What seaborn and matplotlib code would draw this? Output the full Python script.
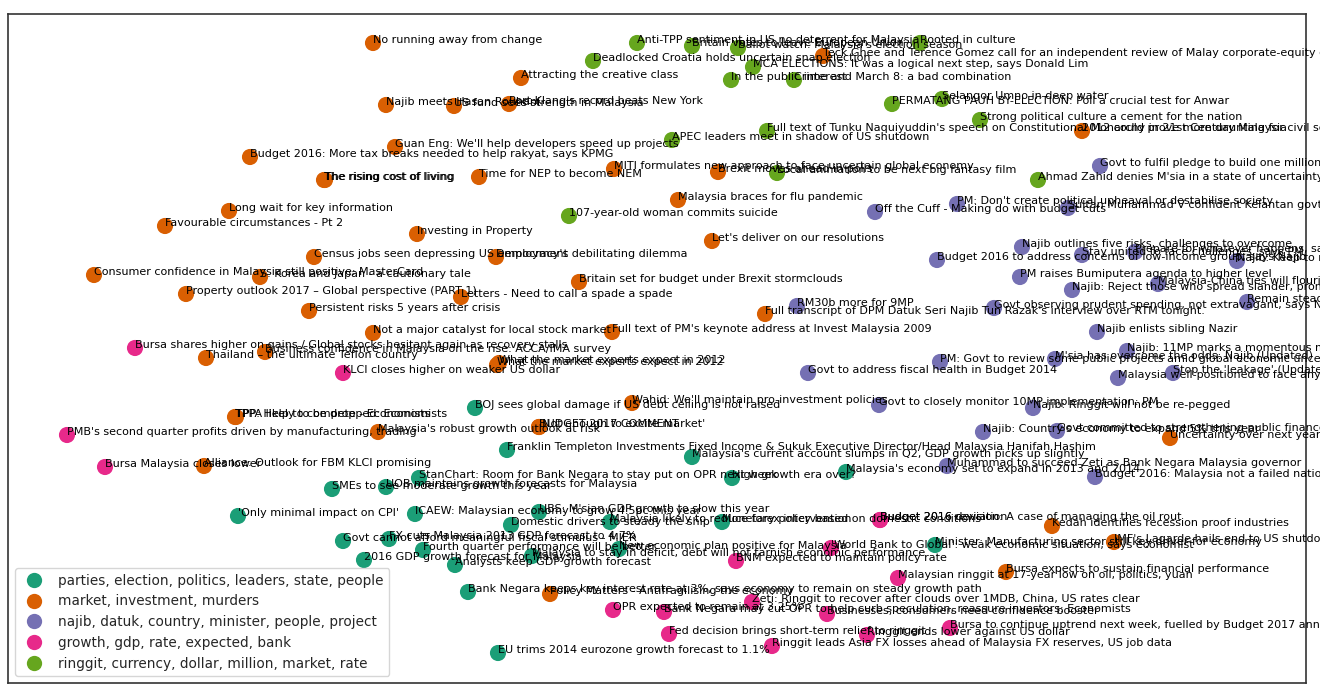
import matplotlib
matplotlib.use("Agg")
import matplotlib.pyplot as plt
from matplotlib.lines import Line2D
import seaborn as sns
import pandas as pd

# topic clusters (legend order)
topics = [
    "parties, election, politics, leaders, state, people",
    "market, investment, murders",
    "najib, datuk, country, minister, people, project",
    "growth, gdp, rate, expected, bank",
    "ringgit, currency, dollar, million, market, rate",
]
palette = sns.color_palette("Dark2", 5)

# embedding coordinates (dim1, dim2), cluster id, headline
dim1 = [
    373, 637, 692, 738, 920, 823, 593, 753, 731, 794,
    521, 386, 454, 509, 892, 942, 980, 1082, 767, 672,
    395, 250, 324, 325, 479, 614, 718, 777, 678, 569,
    1100, 1038, 875, 957, 1068,
    229, 165, 417, 314, 496, 712, 94, 260, 186, 309,
    579, 461, 373, 612, 765, 797, 135, 265, 206, 343,
    497, 499, 808, 235, 236, 378, 67, 475, 632, 879,
    539, 539, 507, 692,
    937, 1022, 1082, 1135, 1237, 1020, 1072, 1158, 994, 1247,
    1097, 940, 1055, 1127, 1118, 1173, 1033, 983, 1057, 1170,
    947, 1095,
    105, 204, 332, 386, 419, 238, 415, 343, 389, 423,
    364, 455, 532, 539, 511, 610, 722, 619, 732, 846,
    468, 550, 498,
    880, 880, 831, 736, 935, 1052, 1114, 898, 1006, 613,
    664, 752, 827, 669, 867, 950, 772,
]
dim2 = [
    43, 43, 46, 48, 43, 56, 61, 67, 80, 80,
    78, 105, 106, 104, 104, 99, 120, 131, 131, 140,
    147, 157, 180, 180, 177, 169, 172, 173, 200, 216,
    166, 180, 212, 204, 208,
    211, 226, 234, 257, 257, 241, 275, 277, 294, 311,
    282, 297, 333, 332, 314, 306, 348, 352, 358, 373,
    365, 363, 373, 417, 417, 432, 435, 408, 403, 405,
    427, 427, 450, 457,
    260, 247, 255, 252, 261, 277, 290, 284, 308, 302,
    332, 362, 359, 351, 378, 373, 408, 432, 431, 438,
    466, 477,
    467, 466, 489, 487, 478, 516, 514, 541, 539, 550,
    560, 565, 556, 512, 525, 522, 522, 549, 478, 472,
    592, 594, 653,
    520, 520, 548, 561, 545, 526, 542, 578, 572, 610,
    612, 602, 614, 634, 635, 628, 646,
]
cluster = [
    1, 4, 4, 4, 4, 1, 4, 4, 4, 4,
    1, 1, 1, 1, 4, 4, 4, 1, 4, 4,
    1, 1, 1, 1, 1, 1, 1, 4, 1, 4,
    2, 4, 2, 2, 2,
    1, 1, 1, 1, 1, 1, 1, 1, 1, 1,
    1, 1, 1, 1, 1, 2, 3, 1, 1, 3,
    1, 1, 2, 1, 1, 1, 3, 0, 1, 2,
    1, 1, 0, 0,
    2, 2, 2, 2, 2, 2, 2, 2, 2, 2,
    2, 2, 2, 2, 2, 2, 2, 2, 2, 1,
    2, 2,
    3, 1, 0, 0, 0, 0, 0, 0, 0, 0,
    0, 0, 0, 0, 0, 0, 0, 0, 0, 0,
    0, 1, 0,
    3, 3, 3, 3, 0, 1, 1, 3, 1, 3,
    3, 3, 3, 3, 3, 3, 3,
]
headlines = [
    "No running away from change",
    "Anti-TPP sentiment in US no deterrent for Malaysia",
    "Britain votes to leave European Union",
    "Ballot watch: Malaysia's election season",
    "Rooted in culture",
    "Teck Ghee and Terence Gomez call for an independent review of Malay corporate-equity data",
    "Deadlocked Croatia holds uncertain snap election",
    "MCA ELECTIONS: It was a logical next step, says Donald Lim",
    "In the public interest",
    "Crime and March 8: a bad combination",
    "Attracting the creative class",
    "Najib meets Hasan Rouhani",
    "US fund sees strength in Malaysia",
    "Port Klang's record beats New York",
    "PERMATANG PAUH BY-ELECTION: Poll a crucial test for Anwar",
    "Selangor Umno in deep water",
    "Strong political culture a cement for the nation",
    "2012 could prove more daunting for civil servants",
    "Full text of Tunku Naquiyuddin's speech on Constitutional Monarchy in 21st Century Malaysia",
    "APEC leaders meet in shadow of US shutdown",
    "Guan Eng: We'll help developers speed up projects",
    "Budget 2016: More tax breaks needed to help rakyat, says KPMG",
    "The rising cost of living",
    "The rising cost of living",
    "Time for NEP to become NEM",
    "MITI formulates new approach to face uncertain global economy",
    "Brexit moves ahead in polls",
    "Local animation to be next big fantasy film",
    "Malaysia braces for flu pandemic",
    "107-year-old woman commits suicide",
    "Govt to fulfil pledge to build one million affordable homes",
    "Ahmad Zahid denies M'sia in a state of uncertainty",
    "Off the Cuff - Making do with budget cuts",
    "PM: Don't create political upheaval or destabilise society",
    "Sultan Muhammad V confident Kelantan govt will continue to progress",
    "Long wait for key information",
    "Favourable circumstances - Pt 2",
    "Investing in Property",
    "Census jobs seen depressing US employment",
    "Democracy's debilitating dilemma",
    "Let's deliver on our resolutions",
    "Consumer confidence in Malaysia still positive: MasterCard",
    "S. Korea and Japan - a cautionary tale",
    "Property outlook 2017 \u2013 Global perspective (PART 1)",
    "Persistent risks 5 years after crisis",
    "Britain set for budget under Brexit stormclouds",
    "Letters - Need to call a spade a spade",
    "Not a major catalyst for local stock market",
    "Full text of PM's keynote address at Invest Malaysia 2009",
    "Full transcript of DPM Datuk Seri Najib Tun Razak's interview over RTM tonight.",
    "RM30b more for 9MP",
    "Bursa shares higher on gains / Global stocks hesitant again as recovery stalls",
    "Business confidence in Malaysia on the rise: ACCA/IMA survey",
    "Thailand \u2013 the ultimate Teflon country",
    "KLCI closes higher on weaker US dollar",
    "What the market experts expect in 2012",
    "What the market experts expect in 2012",
    "Govt to address fiscal health in Budget 2014",
    "TPPA likely to be dropped: Economists",
    "TPP: Help to compete - Economists",
    "Malaysia's robust growth outlook at risk",
    "PMB's second quarter profits driven by manufacturing, trading",
    "BOJ sees global damage if US debt ceiling is not raised",
    "Wahid: We'll maintain pro-investment policies",
    "Govt to closely monitor 10MP implementation: PM",
    "'Not enough to excite market'",
    "BUDGET 2017 COMMENT",
    "Franklin Templeton Investments Fixed Income & Sukuk Executive Director/Head Malaysia Hanifah Hashim",
    "Malaysia's current account slumps in Q2, GDP growth picks up slightly",
    "Budget 2016 to address concerns of low-income group, says Najib",
    "Najib outlines five risks, challenges to overcome",
    "Stay united to face challenges, says PM",
    "Prepare for whatever happens, says Najib",
    "Najib: Keep to moderate approach",
    "PM raises Bumiputera agenda to higher level",
    "Najib: Reject those who spread slander, promote hatred",
    "Malaysia-China ties will flourish",
    "Govt observing prudent spending, not extravagant, says Najib",
    "Remain steadfast in facing challenges",
    "Najib enlists sibling Nazir",
    "PM: Govt to review some public projects amid global economic uncertainty",
    "M'sia has overcome the odds: Najib (Updated)",
    "Najib: 11MP marks a momentous milestone",
    "Malaysia well-positioned to face any crisis",
    "Stop the 'leakage' (Updated)",
    "Najib: Ringgit will not be re-pegged",
    "Najib: Country's economy to expand 5% this year",
    "Govt committed to strengthening public finances",
    "Uncertainty over next year",
    "Muhammad to succeed Zeti as Bank Negara Malaysia governor",
    "Budget 2016: Malaysia not a failed nation",
    "Bursa Malaysia closes lower",
    "Alliance: Outlook for FBM KLCI promising",
    "SMEs to see moderate growth this year",
    "UOB maintains growth forecasts for Malaysia",
    "StanChart: Room for Bank Negara to stay put on OPR next week",
    "'Only minimal impact on CPI'",
    "ICAEW: Malaysian economy to grow 4.5pc this year",
    "Govt cannot afford meaningful fiscal stimulus - MIER",
    "FX cuts Malaysia 2013 GDP forecast to 4.7%",
    "Fourth quarter performance will be better",
    "2016 GDP growth forecast for Malaysia",
    "Analysts keep GDP growth forecast",
    "Malaysia to stay in deficit, debt will not tarnish economic performance",
    "UBS: M'sian GDP growth to slow this year",
    "Domestic drivers to steady the ship",
    "Malaysia likely to reduce forex intervention",
    "Monetary policy based on domestic conditions",
    "New economic plan positive for Malaysia",
    "High growth era over?",
    "Malaysia's economy set to expand in 2013 and 2014",
    "Bank Negara keeps key interest rate at 3%, says economy to remain on steady growth path",
    "Policy Matters - Antifragilising the economy",
    "EU trims 2014 eurozone growth forecast to 1.1%",
    "Budget 2016 revision: A case of managing the oil rout",
    "Budget 2016 deviation",
    "'World Bank to Global': weak economic situation, says economist",
    "BNM expected to maintain policy rate",
    "Minister: Manufacturing sector still key driver for economy",
    "Kedah identifies recession proof industries",
    "IMF's Lagarde hails end to US shutdown",
    "Malaysian ringgit at 17-year low on oil, politics, yuan",
    "Bursa expects to sustain financial performance",
    "OPR expected to remain at 3.25%",
    "Bank Negara may cut OPR to help curb speculation, reassure investors: Economists",
    "Zeti: Ringgit to recover after clouds over 1MDB, China, US rates clear",
    "Businesses, consumers need confidence booster",
    "Fed decision brings short-term relief to ringgit",
    "Ringgit ends lower against US dollar",
    "Bursa to continue uptrend next week, fuelled by Budget 2017 announcement",
    "Ringgit leads Asia FX losses ahead of Malaysia FX reserves, US job data",
]

df = pd.DataFrame({
    "x": dim1,
    "y": dim2,
    "topic": [topics[c] for c in cluster],
    "title": headlines,
})

sns.set_style("white")
plt.rcParams["font.family"] = ["DejaVu Sans"]

fig = plt.figure(figsize=(13.2, 6.95), dpi=100)
ax = fig.add_axes([8 / 1320, 12 / 695, 1298 / 1320, 669 / 695])

sns.scatterplot(data=df, x="x", y="y", hue="topic", hue_order=topics,
                palette=palette, s=135, linewidth=0, legend=False, ax=ax,
                zorder=2)

for _, r in df.iterrows():
    ax.text(r["x"], r["y"], r["title"], fontsize=8, color="black",
            zorder=3)

ax.set_xlim(8, 1306)
ax.set_ylim(683, 14)
ax.set_xticks([])
ax.set_yticks([])
ax.set_xlabel("")
ax.set_ylabel("")
for sp in ax.spines.values():
    sp.set_color("#333333")
    sp.set_linewidth(1.2)

handles = [Line2D([], [], marker="o", linestyle="", markersize=11,
                  markerfacecolor=palette[i], markeredgewidth=0)
           for i in range(len(topics))]
ax.legend(handles, topics, loc="lower left", fontsize=9.8,
          handletextpad=0.8, borderaxespad=0.5)

fig.savefig("out.png", dpi=100)
